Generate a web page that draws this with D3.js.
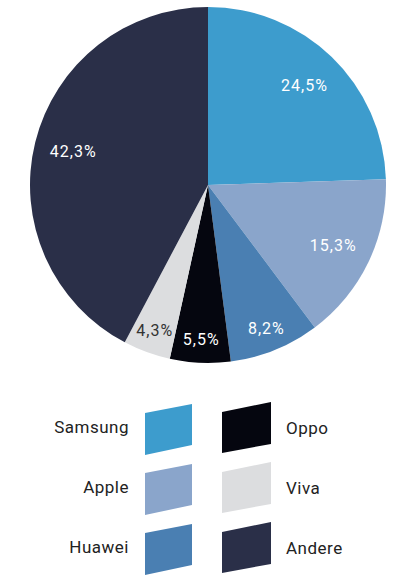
<!DOCTYPE html>
<html>
<head>
<meta charset="utf-8">
<script src="https://cdn.jsdelivr.net/npm/d3@7"></script>
<style>
  body { margin: 0; background: #fff; }
  svg { display: block; font-family: Roboto, "Noto Sans", sans-serif; }
</style>
</head>
<body>
<div id="chart"></div>
<script>
// market share data
const brands = ["Samsung", "Apple", "Huawei", "Oppo", "Viva", "Andere"]
const shares = [24.5, 15.3, 8.2, 5.5, 4.3, 42.3]
const colors = ["#3d9ccd", "#8aa5cb", "#4a7fb2", "#05060f", "#dcdddf", "#2a2f48"]
const labelColors = ["#fff", "#fff", "#fff", "#fff", "#333", "#fff"]

// legend layout: two columns, three rows
const legendLeft = ["Samsung", "Apple", "Huawei"]
const legendRight = ["Oppo", "Viva", "Andere"]

const width = 399,
  height = 575

const svg = d3.select("#chart").append("svg").attr("width", width).attr("height", height)

const cx = 208,
  cy = 185,
  radius = 178

const data = brands.map((b, i) => ({ brand: b, value: shares[i], color: colors[i], label: labelColors[i] }))

const pie = d3.pie().sort(null).value((d) => d.value)
const arc = d3.arc().innerRadius(0).outerRadius(radius)

const g = svg.append("g").attr("transform", `translate(${cx},${cy})`)

const slices = g.selectAll(".slice").data(pie(data)).enter().append("g").attr("class", "slice")

slices
  .append("path")
  .attr("d", arc)
  .attr("fill", (d) => d.data.color)

// big slices get labels a bit further in
slices
  .append("text")
  .attr("transform", (d) => {
    const r = d.data.value > 10 ? radius * 0.78 : radius * 0.87
    const a = (d.startAngle + d.endAngle) / 2
    return `translate(${Math.sin(a) * r},${-Math.cos(a) * r})`
  })
  .attr("text-anchor", "middle")
  .attr("dy", "0.35em")
  .style("font-size", "16px")
  .style("letter-spacing", "1px")
  .style("fill", (d) => d.data.label)
  .text((d) => d3.format(".1f")(d.data.value).replace(".", ",") + "%")

// legend
const rowY = d3.scalePoint().domain([0, 1, 2]).range([402, 522])
const colorOf = d3.scaleOrdinal().domain(brands).range(colors)

const legend = svg.append("g")

legendLeft.forEach((name, i) => {
  const y = rowY(i)
  legend.append("path").attr("d", `M145,${y + 11} L192,${y + 2} L192,${y + 43} L145,${y + 53} Z`).attr("fill", colorOf(name))
  legend
    .append("text")
    .attr("x", 129)
    .attr("y", y + 31)
    .attr("text-anchor", "end")
    .style("font-size", "17px")
    .style("letter-spacing", "0.5px")
    .style("fill", "#222")
    .text(name)
})

legendRight.forEach((name, i) => {
  const y = rowY(i)
  legend.append("path").attr("d", `M222,${y + 10} L271,${y} L271,${y + 42} L222,${y + 51} Z`).attr("fill", colorOf(name))
  legend
    .append("text")
    .attr("x", 286)
    .attr("y", y + 32)
    .style("font-size", "17px")
    .style("letter-spacing", "0.5px")
    .style("fill", "#222")
    .text(name)
})
</script>
</body>
</html>
